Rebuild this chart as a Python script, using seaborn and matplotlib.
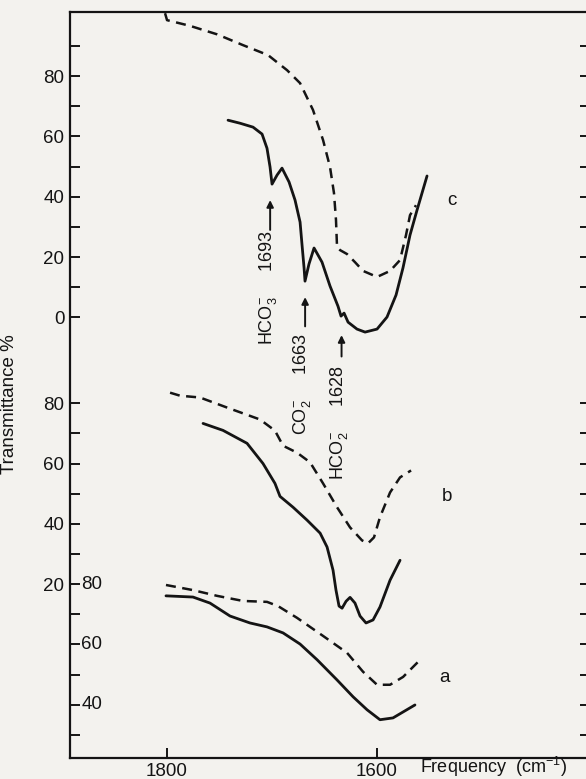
import matplotlib
matplotlib.use("Agg")
import matplotlib.pyplot as plt
import matplotlib.transforms as mtransforms
import seaborn as sns

# IR spectra, three samples (a, b, c), stacked with vertical offsets
# frequency in cm-1, transmittance in % (each curve on its own scale)

c_dash_freq = [1801.6, 1799.7, 1777.8, 1752.1, 1727.3, 1703.5, 1685.4, 1673.0, 1660.7,
               1651.1, 1644.5, 1640.7, 1638.8, 1637.8, 1634.9, 1628.3, 1620.7, 1613.0,
               1599.7, 1587.3, 1577.8, 1572.1, 1568.3, 1562.6]
c_dash_T = [100.9, 98.6, 96.7, 93.9, 90.3, 87.0, 82.0, 77.7, 68.8,
            58.8, 49.9, 41.2, 32.3, 23.3, 22.3, 21.0, 18.3, 15.4,
            13.4, 15.4, 19.0, 27.3, 33.9, 37.2]

c_solid_freq = [1741.6, 1730.2, 1717.8, 1709.2, 1704.5, 1701.6, 1699.7, 1694.9, 1690.2,
                1683.5, 1677.8, 1673.0, 1671.1, 1669.2, 1668.3, 1664.5, 1659.7, 1652.1,
                1644.5, 1636.9, 1634.0, 1631.1, 1627.3, 1618.8, 1611.1, 1599.7, 1590.2,
                1581.6, 1575.0, 1568.3, 1561.6, 1552.1]
c_solid_T = [65.4, 64.4, 63.1, 60.8, 56.1, 49.9, 44.2, 47.2, 49.5,
             44.9, 38.9, 31.6, 23.9, 16.4, 12.0, 17.7, 23.0, 18.3,
             10.4, 3.7, 0.4, 1.4, -1.6, -3.9, -4.9, -3.9, 0.1,
             7.4, 16.4, 27.3, 35.6, 46.9]

b_dash_freq = [1796.8, 1787.3, 1768.3, 1739.7, 1711.1, 1696.9, 1689.2, 1675.9, 1663.5,
               1651.1, 1637.8, 1625.4, 1614.0, 1608.3, 1602.6, 1596.9, 1587.3, 1577.8, 1567.3]
b_dash_T = [83.5, 82.5, 81.9, 78.2, 74.6, 70.9, 65.9, 63.6, 60.4,
            53.4, 45.5, 38.8, 34.5, 33.5, 35.5, 42.2, 50.4, 55.4, 57.7]

b_solid_freq = [1765.4, 1746.4, 1723.5, 1708.3, 1696.9, 1692.1, 1679.7, 1666.3, 1653.9,
                1647.3, 1641.6, 1638.8, 1635.9, 1633.0, 1629.2, 1625.4, 1620.7, 1615.9,
                1610.2, 1603.5, 1596.9, 1587.3, 1577.8]
b_solid_T = [73.3, 71.0, 66.7, 60.0, 53.4, 49.1, 45.5, 41.2, 36.9,
             32.3, 24.6, 18.0, 12.7, 12.0, 14.3, 15.6, 13.7, 9.4,
             7.1, 8.1, 12.4, 21.3, 27.9]

a_dash_freq = [1800.7, 1775.0, 1752.1, 1727.3, 1704.5, 1694.0, 1675.9, 1651.1, 1628.3,
               1613.0, 1599.7, 1587.3, 1574.9, 1560.6]
a_dash_T = [79.7, 78.0, 76.1, 74.4, 74.1, 72.7, 68.8, 62.8, 57.2,
            50.9, 46.6, 46.6, 49.2, 54.2]

a_solid_freq = [1800.7, 1775.0, 1758.8, 1739.7, 1720.7, 1704.5, 1689.2, 1673.0, 1656.8,
                1637.8, 1622.5, 1609.2, 1596.9, 1584.5, 1563.6]
a_solid_T = [76.1, 75.7, 73.7, 69.4, 67.1, 65.8, 63.8, 60.1, 54.9,
             48.2, 42.6, 38.3, 35.0, 35.6, 39.9]

# vertical offset of each trace on the common axis
offsets = {"c": 0.0, "b": -108.5, "a": -168.5}

c_ticks = [90, 80, 70, 60, 50, 40, 30, 20, 10, 0]
b_ticks = [80, 70, 60, 50, 40, 30, 20]
a_ticks = [70, 60, 50, 40, 30]
c_labels = [80, 60, 40, 20, 0]
b_labels = [80, 60, 40, 20]
a_labels = [80, 60, 40]

x_ticks = [1800, 1600]

# (label, frequency, arrow tip T, arrow tail T, text bottom T) on scale c
bands = [
    (r"HCO$_3^{-}$     1693", 1701.5, 38.9, 29.0, -9.2),
    (r"CO$_2^{-}$     1663", 1668.2, 6.7, -3.0, -39.0),
    (r"HCO$_2^{-}$     1628", 1633.5, -5.9, -13.0, -54.0),
]

PAPER = "#f3f2ee"
INK = "#141414"

sns.set_style("ticks")
plt.rcParams["font.family"] = ["Liberation Sans", "DejaVu Sans"]
plt.rcParams["mathtext.fontset"] = "custom"
plt.rcParams["mathtext.rm"] = "Liberation Sans"
plt.rcParams["mathtext.it"] = "Liberation Sans:italic"

fig = plt.figure(figsize=(5.86, 7.79), dpi=100, facecolor=PAPER)
ax = fig.add_axes([70 / 586, 21.3 / 779, 520 / 586, 745.7 / 779])
ax.set_facecolor(PAPER)

dash = (0, (4, 2.6))
curves = [
    (c_dash_freq, c_dash_T, "c", dash),
    (c_solid_freq, c_solid_T, "c", "-"),
    (b_dash_freq, b_dash_T, "b", dash),
    (b_solid_freq, b_solid_T, "b", "-"),
    (a_dash_freq, a_dash_T, "a", dash),
    (a_solid_freq, a_solid_T, "a", "-"),
]
for fr, tr, key, ls in curves:
    y = [t + offsets[key] for t in tr]
    lw = 2.0 if ls == "-" else 1.8
    sns.lineplot(x=fr, y=y, ax=ax, sort=False, estimator=None,
                 color=INK, linewidth=lw, linestyle=ls)

ax.set_xlim(1892.1, 1396.9)
ax.set_ylim(-146.1, 101.3)

# ticks: one set on the shared axis, labelled per trace scale
yt = [v + offsets["c"] for v in c_ticks] + [v + offsets["b"] for v in b_ticks] \
     + [v + offsets["a"] for v in a_ticks]
ylab = [str(v) if v in c_labels else "" for v in c_ticks] + \
       [str(v) if v in b_labels else "" for v in b_ticks] + ["" for v in a_ticks]
ax.set_yticks(yt)
ax.set_yticklabels(ylab)
ax.set_xticks(x_ticks)
ax.set_xticklabels([str(v) for v in x_ticks])
ax.tick_params(axis="y", direction="in", length=7, width=1.4, left=True, right=True,
               labelsize=13.5, pad=4, colors=INK)
ax.tick_params(axis="x", direction="in", length=7, width=1.4, top=False,
               labelsize=13.5, pad=4, colors=INK)

# scale a is printed inside the frame
blend = mtransforms.blended_transform_factory(ax.transAxes, ax.transData)
for v in a_labels:
    ax.text(0.022, v + offsets["a"], str(v), transform=blend, ha="left", va="center",
            fontsize=13.5, color=INK)

for s in ax.spines.values():
    s.set_linewidth(1.6)
    s.set_color(INK)

ax.set_ylabel("Transmittance %", fontsize=13.5, color=INK)
ax.yaxis.set_label_coords(-0.1, 0.474)
ax.set_xlabel(r"Frequency  (cm$^{-1}$)", fontsize=13, color=INK, ha="left", va="baseline")
ax.xaxis.set_label_coords(0.673, -0.0205)

# band assignments
for label, f, tip, tail, bottom in bands:
    ax.text(f + 2.5, bottom, label, rotation=90, ha="center", va="bottom",
            fontsize=13, color=INK)
    ax.annotate("", xy=(f, tip), xytext=(f, tail),
                arrowprops=dict(arrowstyle="-|>", color=INK, lw=1.4, mutation_scale=10,
                                shrinkA=0, shrinkB=0))

# trace letters
ax.text(1528, 38.9 + offsets["c"], "c", fontsize=13.5, ha="center", va="center", color=INK)
ax.text(1533, 49.2 + offsets["b"], "b", fontsize=13.5, ha="center", va="center", color=INK)
ax.text(1535, 48.9 + offsets["a"], "a", fontsize=13.5, ha="center", va="center", color=INK)

fig.savefig("out.png", dpi=100, facecolor=PAPER)
